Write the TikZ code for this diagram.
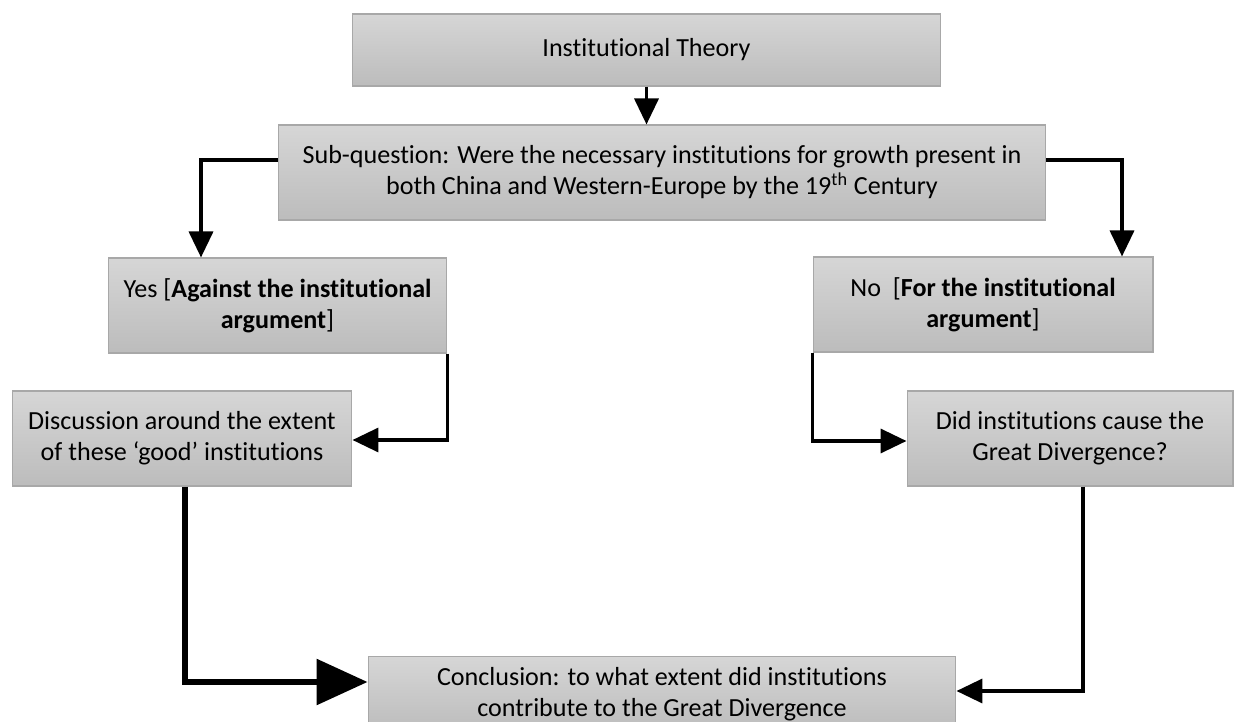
\documentclass[tikz,border=0pt]{standalone}
\usepackage{fontspec}
\setmainfont{Carlito}[Ligatures=CommonOff]
\usetikzlibrary{arrows.meta,calc}
\definecolor{boxtop}{HTML}{D6D6D6}
\definecolor{boxbottom}{HTML}{BCBCBC}
\definecolor{boxline}{HTML}{A8A8A8}
\tikzset{
  box/.style={
    draw=boxline, line width=0.6pt, top color=boxtop, bottom color=boxbottom,
    align=center, inner sep=0pt, minimum height=1.9cm,
    font=\fontsize{14.85}{17.6}\selectfont
  },
  flow/.style={-{Triangle[length=0.52cm,width=0.48cm]}, line width=2pt},
  bigflow/.style={-{Triangle[length=1.02cm,width=0.9cm]}, line width=3.4pt}
}

\begin{document}
\begin{tikzpicture}[x=0.02cm,y=-0.02cm]
  \clip (0,0) rectangle (1234,722);

  \node[box, minimum width=11.78cm, minimum height=1.44cm] (theory) at (646.5,50) {Institutional Theory};
  \node[box, minimum width=15.36cm] (subq) at (662,172.5) {Sub-question: Were the necessary institutions for growth present in\\both China and Western-Europe by the 19\textsuperscript{th} Century};

  \node[box, minimum width=6.78cm] (yes) at (277.5,305.5) {Yes [\textbf{Against the institutional}\\\textbf{argument}]};
  \node[box, minimum width=6.8cm] (no) at (983,304.5) {No~~[\textbf{For the institutional}\\\textbf{argument}]};

  \node[box, minimum width=6.8cm] (disc) at (182,438.5) {Discussion around the extent\\of these `good' institutions};
  \node[box, minimum width=6.52cm] (did) at (1070,438.5) {Did institutions cause the\\Great Divergence?};

  \node[box, minimum width=11.76cm, minimum height=1.5cm] (concl) at (662,694) {Conclusion: to what extent did institutions\\contribute to the Great Divergence};

  \draw[flow] (theory.south) -- (theory.south |- subq.north);
  \draw[flow] ($(subq.west)+(0,-12.5)$) -| ($(yes.north)+(-76.5,0)$);
  \draw[flow] ($(subq.east)+(0,-12.5)$) -| ($(no.north)+(139,0)$);
  \draw[flow] (yes.south east) |- ($(disc.east)+(0,1.5)$);
  \draw[flow] (no.south west) |- ($(did.west)+(0,2.5)$);
  \draw[bigflow] ($(disc.south)+(3,0)$) |- ($(concl.west)+(0,-12)$);
  \draw[flow] ($(did.south)+(13,0)$) |- ($(concl.east)+(0,-3)$);
\end{tikzpicture}
\end{document}
